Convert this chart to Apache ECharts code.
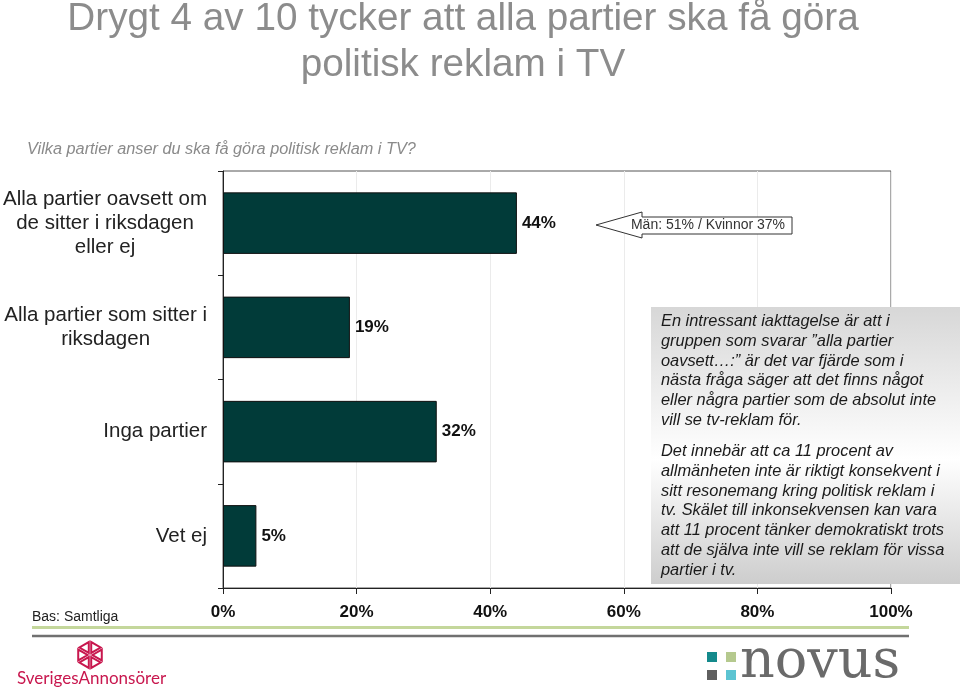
<!DOCTYPE html>
<html>
<head>
<meta charset="utf-8">
<script src="https://cdn.jsdelivr.net/npm/echarts@6/dist/echarts.min.js"></script>
<style>
html,body{margin:0;padding:0;background:#fff;}
#chart{width:960px;height:695px;}
</style>
</head>
<body>
<div id="chart"></div>
<script>
var titleLines = ['Drygt 4 av 10 tycker att alla partier ska få göra', 'politisk reklam i TV'];
var subtitle = 'Vilka partier anser du ska få göra politisk reklam i TV?';
var categories = ['Alla partier oavsett om\nde sitter i riksdagen\neller ej', 'Alla partier som sitter i\nriksdagen', 'Inga partier', 'Vet ej'];
var values = [44, 19, 32, 5];
var xMin = 0, xMax = 100, xInterval = 20;
var calloutText = 'Män: 51% / Kvinnor 37%';
var para1 = ['En intressant iakttagelse är att i', 'gruppen som svarar ”alla partier', 'oavsett…:” är det var fjärde som i', 'nästa fråga säger att det finns något', 'eller några partier som de absolut inte', 'vill se tv-reklam för.'];
var para2 = ['Det innebär att ca 11 procent av', 'allmänheten inte är riktigt konsekvent i', 'sitt resonemang kring politisk reklam i', 'tv. Skälet till inkonsekvensen kan vara', 'att 11 procent tänker demokratiskt trots', 'att de själva inte vill se reklam för vissa', 'partier i tv.'];
var baseText = 'Bas: Samtliga';

var FONT = '"Liberation Sans", Arial, sans-serif';
var chart = echarts.init(document.getElementById('chart'), null, {renderer: 'canvas'});

// SverigesAnnonsörer symbol triangles
var cx = 90, cy = 655, R = 15;
var symbolEls = [];
for (var k = 0; k < 6; k++) {
  var a1 = (Math.PI / 3) * k - Math.PI / 2, a2 = a1 + Math.PI / 3;
  var p0 = [cx, cy], p1 = [cx + R * Math.cos(a1), cy + R * Math.sin(a1)], p2 = [cx + R * Math.cos(a2), cy + R * Math.sin(a2)];
  var gx = (p0[0] + p1[0] + p2[0]) / 3, gy = (p0[1] + p1[1] + p2[1]) / 3, s = 0.72;
  var pts = [p0, p1, p2].map(function (p) { return [gx + (p[0] - gx) * s, gy + (p[1] - gy) * s]; });
  symbolEls.push({type: 'polygon', shape: {points: pts}, style: {fill: 'none', stroke: '#c8174e', lineWidth: 2}, z: 50});
}

var option = {
  animation: false,
  backgroundColor: '#fff',
  grid: {left: 223, right: 69, top: 171, bottom: 107, show: true, borderColor: '#555', borderWidth: 1, containLabel: false},
  xAxis: {
    type: 'value', min: xMin, max: xMax, interval: xInterval,
    axisLine: {show: true, lineStyle: {color: '#222', width: 1}},
    axisTick: {show: true, length: 6, lineStyle: {color: '#222'}},
    axisLabel: {formatter: '{value}%', fontFamily: FONT, fontSize: 17, fontWeight: 'bold', color: '#111', margin: 16},
    splitLine: {show: true, lineStyle: {color: '#ebebeb', width: 1}}
  },
  yAxis: {
    type: 'category', data: categories, inverse: true,
    axisLine: {show: true, lineStyle: {color: '#222', width: 1}},
    axisTick: {show: true, length: 5, lineStyle: {color: '#222'}},
    axisLabel: {
      margin: 16, fontFamily: FONT, fontSize: 20.5, color: '#222', lineHeight: 24,
      formatter: function (v) { return v.split('\n').map(function (l) { return '{c|' + l + '}'; }).join('\n'); },
      rich: {c: {align: 'center', fontFamily: FONT, fontSize: 20.5, color: '#222', lineHeight: 24}}
    },
    splitLine: {show: false}
  },
  series: [{
    type: 'bar', data: values, barCategoryGap: '41%',
    itemStyle: {color: '#013b39', borderColor: '#111', borderWidth: 1},
    label: {show: true, position: 'right', distance: 5, formatter: '{c}%', fontFamily: FONT, fontSize: 17, fontWeight: 'bold', color: '#111'}
  }],
  graphic: [
    {type: 'text', x: 463, y: 19, style: {text: titleLines[0], fontFamily: FONT, fontSize: 38.7, fill: '#8c8c8c', textAlign: 'center', textVerticalAlign: 'middle'}},
    {type: 'text', x: 463, y: 65, style: {text: titleLines[1], fontFamily: FONT, fontSize: 38.7, fill: '#8c8c8c', textAlign: 'center', textVerticalAlign: 'middle'}},
    {type: 'text', x: 27, y: 149.5, style: {text: subtitle, fontFamily: FONT, fontSize: 16.3, fontStyle: 'italic', fill: '#8a8a8a', textAlign: 'left', textVerticalAlign: 'middle'}},
    // callout arrow
    {type: 'polygon', z: 60, shape: {points: [[596, 225], [642, 212], [642, 217], [792, 217], [792, 234], [642, 234], [642, 238]]}, style: {fill: '#fff', stroke: '#333', lineWidth: 1}},
    {type: 'text', z: 61, x: 708, y: 225.5, style: {text: calloutText, fontFamily: FONT, fontSize: 14, fill: '#333', textAlign: 'center', textVerticalAlign: 'middle'}},
    // text box
    {type: 'rect', z: 70, shape: {x: 651, y: 307, width: 309, height: 277},
      style: {fill: new echarts.graphic.LinearGradient(0, 0, 0, 1, [{offset: 0, color: '#d7d7d7'}, {offset: 0.55, color: '#ffffff'}, {offset: 1, color: '#cdcdcd'}])}},
    {type: 'text', z: 71, x: 661, y: 311.5, style: {text: para1.join('\n'), fontFamily: FONT, fontSize: 16.4, fontStyle: 'italic', fill: '#1a1a1a', lineHeight: 19.8, textAlign: 'left', textVerticalAlign: 'top'}},
    {type: 'text', z: 71, x: 661, y: 441.5, style: {text: para2.join('\n'), fontFamily: FONT, fontSize: 16.4, fontStyle: 'italic', fill: '#1a1a1a', lineHeight: 19.8, textAlign: 'left', textVerticalAlign: 'top'}},
    // footer
    {type: 'text', x: 32, y: 617, style: {text: baseText, fontFamily: FONT, fontSize: 14, fill: '#222', textAlign: 'left', textVerticalAlign: 'middle'}},
    {type: 'line', shape: {x1: 32, y1: 627.5, x2: 909, y2: 627.5}, style: {stroke: '#c4d79b', lineWidth: 3}},
    {type: 'line', shape: {x1: 32, y1: 636, x2: 909, y2: 636}, style: {stroke: '#707070', lineWidth: 2.5}},
    {type: 'group', children: symbolEls},
    {type: 'text', x: 17, y: 687, style: {text: 'SverigesAnnonsörer', fontFamily: 'Lato, "Open Sans", sans-serif', fontSize: 17, fill: '#c8174e', textAlign: 'left', textVerticalAlign: 'bottom'}},
    // novus logo
    {type: 'rect', shape: {x: 707, y: 652, width: 10, height: 10}, style: {fill: '#148a8c'}},
    {type: 'rect', shape: {x: 726, y: 652, width: 10, height: 10}, style: {fill: '#b5c98e'}},
    {type: 'rect', shape: {x: 707, y: 670, width: 10, height: 10}, style: {fill: '#5f5f5f'}},
    {type: 'rect', shape: {x: 726, y: 670, width: 10, height: 10}, style: {fill: '#5cc4d2'}},
    {type: 'text', x: 740, y: 663, style: {text: 'novus', fontFamily: '"DejaVu Serif", serif', fontSize: 54, fill: '#6a6a6a', textAlign: 'left', textVerticalAlign: 'middle'}}
  ]
};
chart.setOption(option);
</script>
</body>
</html>
